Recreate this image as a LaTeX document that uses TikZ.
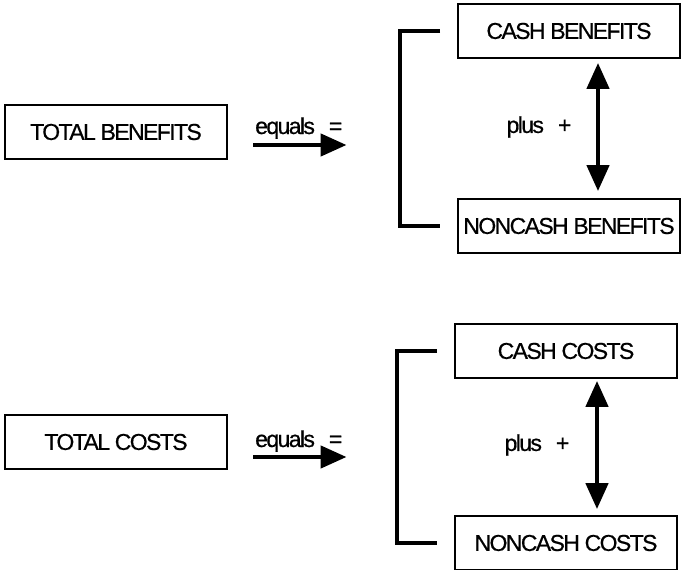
\documentclass[tikz,border=0pt]{standalone}
\usepackage{fontspec}
\setmainfont{Liberation Sans}[LetterSpace=-7, FakeBold=0.6]
\usetikzlibrary{arrows.meta}

\tikzset{
box/.style={draw, line width=1.8pt, minimum width=222pt, minimum height=54pt, inner sep=0pt},
heavy/.style={line width=4.5pt},
tip/.style={-{Triangle[length=26pt,width=22pt]}},
dtip/.style={{Triangle[length=26pt,width=22pt]}-{Triangle[length=26pt,width=22pt]}}
}

\begin{document}
\begin{tikzpicture}[x=1pt,y=-1pt,font=\fontsize{23}{27}\selectfont]
\useasboundingbox (0,0) rectangle (683,570);
\node[box] (TB) at (116,132) {TOTAL BENEFITS};
\node[box] (CB) at (569,31) {CASH BENEFITS};
\node[box] (NB) at (569,226) {NONCASH BENEFITS};
\node[box] (TC) at (116,442) {TOTAL COSTS};
\node[box] (CC) at (566,351) {CASH COSTS};
\node[box] (NC) at (566,543) {NONCASH COSTS};
\node[anchor=base west, inner sep=0pt] (eq1) at (255,134) {equals\hspace{14pt}=};
\node[anchor=base west, inner sep=0pt] (eq2) at (255,447) {equals\hspace{14pt}=};
\node (pl1) at (539,127) {plus\hspace{14pt}+};
\node (pl2) at (537,445) {plus\hspace{14pt}+};

\path[heavy]
([xshift=-2pt,yshift=-11pt]eq1.base west) edge[tip] ([xshift=4pt,yshift=-11pt]eq1.base east)
([xshift=-2pt,yshift=-10pt]eq2.base west) edge[tip] ([xshift=4pt,yshift=-10pt]eq2.base east)
([xshift=29pt]CB.south) edge[dtip, shorten <=4pt, shorten >=7pt] ([xshift=29pt]NB.north)
([xshift=31pt]CC.south) edge[dtip, shorten <=2pt, shorten >=6pt] ([xshift=31pt]NC.north)
;
\draw[heavy] ([xshift=-17pt]CB.west) -- ++(-40,0) |- ([xshift=-17pt]NB.west);
\draw[heavy] ([xshift=-17pt]CC.west) -- ++(-40,0) |- ([xshift=-17pt]NC.west);
\end{tikzpicture}
\end{document}
